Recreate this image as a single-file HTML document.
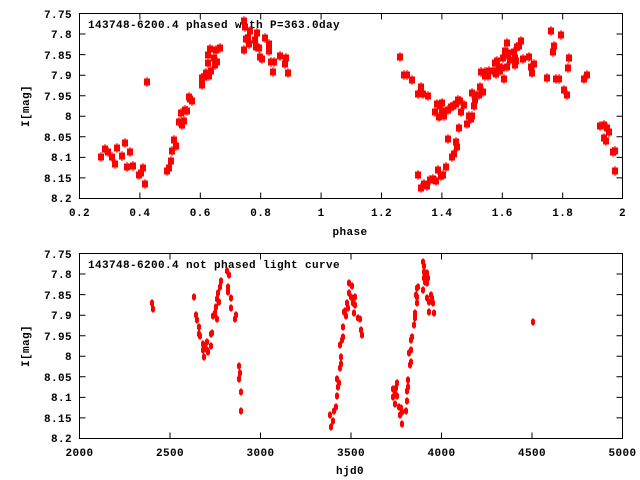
<!DOCTYPE html>
<html><head><meta charset="utf-8"><style>
html,body{margin:0;padding:0;background:#fff;}
svg{display:block;}
text{font-family:"Liberation Mono","DejaVu Sans Mono",monospace;font-weight:bold;font-size:11px;letter-spacing:0.4px;fill:#000;}
</style></head><body>
<svg width="640" height="480" viewBox="0 0 640 480" xmlns="http://www.w3.org/2000/svg">
<defs>
<g id="m"><rect x="-3" y="-3.5" width="6" height="7" fill="#f00"/><rect x="-0.5" y="-5" width="1" height="10" fill="#f00"/></g>
<g id="e"><rect x="-2" y="-2.5" width="4" height="5" fill="#f00"/><rect x="-1" y="-3.5" width="2" height="7" fill="#f00"/></g>
</defs>
<rect width="640" height="480" fill="#fff"/>
<rect x="79.5" y="13.5" width="543" height="185" fill="none" stroke="#000" stroke-width="1"/>
<g stroke="#000" stroke-width="1">
<path d="M79.5 13.5h6M79.5 34h6M79.5 54.6h6M79.5 75.2h6M79.5 95.7h6M79.5 116.3h6M79.5 136.8h6M79.5 157.4h6M79.5 177.9h6
M622.5 34h-6M622.5 54.6h-6M622.5 75.2h-6M622.5 95.7h-6M622.5 116.3h-6M622.5 136.8h-6M622.5 157.4h-6M622.5 177.9h-6
M139.9 198.5v-6M200.3 198.5v-6M260.7 198.5v-6M321.1 198.5v-6M381.5 198.5v-6M441.9 198.5v-6M502.3 198.5v-6M562.7 198.5v-6
M139.9 13.5v6M200.3 13.5v6M260.7 13.5v6M321.1 13.5v6M381.5 13.5v6M441.9 13.5v6M502.3 13.5v6M562.7 13.5v6"/>
</g>
<g text-anchor="end">
<text x="72" y="18">7.75</text><text x="72" y="38">7.8</text><text x="72" y="59">7.85</text><text x="72" y="79">7.9</text><text x="72" y="100">7.95</text><text x="72" y="120">8</text><text x="72" y="141">8.05</text><text x="72" y="161">8.1</text><text x="72" y="182">8.15</text><text x="72" y="202">8.2</text>
</g>
<g text-anchor="middle">
<text x="79.5" y="216">0.2</text><text x="139.9" y="216">0.4</text><text x="200.3" y="216">0.6</text><text x="260.7" y="216">0.8</text><text x="321.1" y="216">1</text><text x="381.5" y="216">1.2</text><text x="441.9" y="216">1.4</text><text x="502.3" y="216">1.6</text><text x="562.7" y="216">1.8</text><text x="622.5" y="216">2</text>
<text x="350" y="235">phase</text>
<text transform="translate(29,106) rotate(-90)">I[mag]</text>
</g>
<text x="88" y="28">143748-6200.4 phased with P=363.0day</text>
<g>
<use href="#m" x="101" y="157"/><use href="#m" x="105" y="149"/><use href="#m" x="108" y="152"/><use href="#m" x="112" y="157"/><use href="#m" x="115" y="164"/><use href="#m" x="117" y="148"/><use href="#m" x="122" y="156"/><use href="#m" x="125" y="143"/><use href="#m" x="127" y="167"/><use href="#m" x="130" y="152"/><use href="#m" x="133" y="166"/><use href="#m" x="139" y="175"/><use href="#m" x="141" y="173"/><use href="#m" x="143" y="168"/><use href="#m" x="145" y="184"/><use href="#m" x="147" y="82"/><use href="#m" x="167" y="171"/><use href="#m" x="169" y="168"/><use href="#m" x="171" y="161"/><use href="#m" x="172" y="151"/><use href="#m" x="174" y="140"/><use href="#m" x="176" y="146"/><use href="#m" x="179" y="122"/><use href="#m" x="181" y="113"/><use href="#m" x="182" y="125"/><use href="#m" x="184" y="121"/><use href="#m" x="185" y="110"/><use href="#m" x="187" y="111"/><use href="#m" x="189" y="97"/><use href="#m" x="190" y="99"/><use href="#m" x="192" y="101"/><use href="#m" x="202" y="85"/><use href="#m" x="202" y="78"/><use href="#m" x="204" y="77"/><use href="#m" x="206" y="73"/><use href="#m" x="207" y="76"/><use href="#m" x="208" y="63"/><use href="#m" x="208" y="55"/><use href="#m" x="209" y="76"/><use href="#m" x="210" y="49"/><use href="#m" x="211" y="71"/><use href="#m" x="214" y="58"/><use href="#m" x="215" y="65"/><use href="#m" x="216" y="50"/><use href="#m" x="217" y="62"/><use href="#m" x="220" y="48"/><use href="#m" x="244" y="21"/><use href="#m" x="245" y="27"/><use href="#m" x="244" y="50"/><use href="#m" x="246" y="39"/><use href="#m" x="248" y="38"/><use href="#m" x="249" y="44"/><use href="#m" x="250" y="31"/><use href="#m" x="255" y="40"/><use href="#m" x="257" y="33"/><use href="#m" x="256" y="47"/><use href="#m" x="259" y="48"/><use href="#m" x="260" y="57"/><use href="#m" x="262" y="59"/><use href="#m" x="265" y="38"/><use href="#m" x="269" y="44"/><use href="#m" x="269" y="51"/><use href="#m" x="271" y="62"/><use href="#m" x="273" y="72"/><use href="#m" x="274" y="62"/><use href="#m" x="280" y="56"/><use href="#m" x="285" y="64"/><use href="#m" x="286" y="58"/><use href="#m" x="288" y="73"/>
<use href="#m" x="400" y="57"/><use href="#m" x="404" y="75"/><use href="#m" x="407" y="75"/><use href="#m" x="412" y="80"/><use href="#m" x="418" y="94"/><use href="#m" x="421" y="87"/><use href="#m" x="423" y="94"/><use href="#m" x="428" y="96"/><use href="#m" x="435" y="112"/><use href="#m" x="437" y="104"/><use href="#m" x="439" y="117"/><use href="#m" x="440" y="106"/><use href="#m" x="442" y="103"/><use href="#m" x="442" y="111"/><use href="#m" x="444" y="116"/><use href="#m" x="448" y="110"/><use href="#m" x="451" y="107"/><use href="#m" x="453" y="106"/><use href="#m" x="456" y="104"/><use href="#m" x="458" y="100"/><use href="#m" x="460" y="101"/><use href="#m" x="461" y="112"/><use href="#m" x="464" y="105"/><use href="#m" x="459" y="128"/><use href="#m" x="467" y="124"/><use href="#m" x="469" y="116"/><use href="#m" x="471" y="119"/><use href="#m" x="472" y="116"/><use href="#m" x="472" y="93"/><use href="#m" x="474" y="106"/><use href="#m" x="475" y="100"/><use href="#m" x="477" y="95"/><use href="#m" x="479" y="95"/><use href="#m" x="480" y="87"/><use href="#m" x="483" y="92"/><use href="#m" x="481" y="72"/><use href="#m" x="485" y="72"/><use href="#m" x="485" y="76"/><use href="#m" x="488" y="76"/><use href="#m" x="489" y="71"/><use href="#m" x="493" y="71"/><use href="#m" x="496" y="74"/><use href="#m" x="495" y="63"/><use href="#m" x="497" y="61"/><use href="#m" x="499" y="67"/><use href="#m" x="500" y="71"/><use href="#m" x="502" y="68"/><use href="#m" x="504" y="79"/><use href="#m" x="503" y="58"/><use href="#m" x="505" y="51"/><use href="#m" x="506" y="55"/><use href="#m" x="507" y="43"/><use href="#m" x="508" y="53"/><use href="#m" x="507" y="67"/><use href="#m" x="510" y="60"/><use href="#m" x="514" y="52"/><use href="#m" x="515" y="58"/><use href="#m" x="515" y="65"/><use href="#m" x="516" y="61"/><use href="#m" x="517" y="47"/><use href="#m" x="519" y="46"/><use href="#m" x="521" y="41"/><use href="#m" x="523" y="59"/><use href="#m" x="529" y="57"/><use href="#m" x="531" y="67"/><use href="#m" x="532" y="73"/><use href="#m" x="534" y="64"/><use href="#m" x="547" y="78"/><use href="#m" x="551" y="31"/><use href="#m" x="553" y="52"/><use href="#m" x="554" y="46"/><use href="#m" x="556" y="79"/><use href="#m" x="559" y="79"/><use href="#m" x="561" y="35"/><use href="#m" x="564" y="90"/><use href="#m" x="567" y="95"/><use href="#m" x="568" y="68"/><use href="#m" x="569" y="58"/><use href="#m" x="584" y="79"/><use href="#m" x="587" y="75"/><use href="#m" x="600" y="126"/><use href="#m" x="604" y="125"/><use href="#m" x="604" y="138"/><use href="#m" x="606" y="141"/><use href="#m" x="607" y="128"/><use href="#m" x="609" y="132"/><use href="#m" x="613" y="152"/><use href="#m" x="615" y="151"/><use href="#m" x="615" y="171"/>
<use href="#m" x="418" y="175"/><use href="#m" x="421" y="188"/><use href="#m" x="424" y="184"/><use href="#m" x="427" y="186"/><use href="#m" x="430" y="180"/><use href="#m" x="433" y="179"/><use href="#m" x="436" y="181"/><use href="#m" x="438" y="170"/><use href="#m" x="441" y="176"/><use href="#m" x="443" y="175"/><use href="#m" x="446" y="167"/><use href="#m" x="448" y="139"/><use href="#m" x="452" y="157"/><use href="#m" x="454" y="154"/><use href="#m" x="456" y="142"/><use href="#m" x="457" y="147"/>
</g>
<rect x="79.5" y="253.5" width="543" height="185" fill="none" stroke="#000" stroke-width="1"/>
<g stroke="#000" stroke-width="1">
<path d="M79.5 274h6M79.5 294.6h6M79.5 315.2h6M79.5 335.7h6M79.5 356.3h6M79.5 376.8h6M79.5 397.4h6M79.5 417.9h6
M622.5 274h-6M622.5 294.6h-6M622.5 315.2h-6M622.5 335.7h-6M622.5 356.3h-6M622.5 376.8h-6M622.5 397.4h-6M622.5 417.9h-6
M170 438.5v-6M260.5 438.5v-6M351 438.5v-6M441.5 438.5v-6M532 438.5v-6
M170 253.5v6M260.5 253.5v6M351 253.5v6M441.5 253.5v6M532 253.5v6"/>
</g>
<g text-anchor="end">
<text x="72" y="258">7.75</text><text x="72" y="278">7.8</text><text x="72" y="299">7.85</text><text x="72" y="319">7.9</text><text x="72" y="340">7.95</text><text x="72" y="360">8</text><text x="72" y="381">8.05</text><text x="72" y="401">8.1</text><text x="72" y="422">8.15</text><text x="72" y="442">8.2</text>
</g>
<g text-anchor="middle">
<text x="79.5" y="456">2000</text><text x="170" y="456">2500</text><text x="260.5" y="456">3000</text><text x="351" y="456">3500</text><text x="441.5" y="456">4000</text><text x="532" y="456">4500</text><text x="622.5" y="456">5000</text>
<text x="350" y="474">hjd0</text>
<text transform="translate(29,346) rotate(-90)">I[mag]</text>
</g>
<text x="88" y="268">143748-6200.4 not phased light curve</text>
<g>
<use href="#e" x="152" y="303"/><use href="#e" x="153" y="309"/><use href="#e" x="194" y="297"/><use href="#e" x="196" y="315"/><use href="#e" x="197" y="320"/><use href="#e" x="199" y="327"/><use href="#e" x="199" y="334"/><use href="#e" x="200" y="336"/><use href="#e" x="203" y="344"/><use href="#e" x="203" y="350"/><use href="#e" x="204" y="357"/><use href="#e" x="205" y="347"/><use href="#e" x="207" y="350"/><use href="#e" x="207" y="342"/><use href="#e" x="208" y="352"/><use href="#e" x="211" y="346"/><use href="#e" x="211" y="334"/><use href="#e" x="212" y="333"/><use href="#e" x="213" y="316"/><use href="#e" x="215" y="313"/><use href="#e" x="216" y="307"/><use href="#e" x="217" y="319"/><use href="#e" x="217" y="299"/><use href="#e" x="218" y="293"/><use href="#e" x="219" y="302"/><use href="#e" x="220" y="287"/><use href="#e" x="221" y="281"/><use href="#e" x="227" y="271"/><use href="#e" x="229" y="275"/><use href="#e" x="228" y="287"/><use href="#e" x="228" y="292"/><use href="#e" x="231" y="298"/><use href="#e" x="231" y="308"/><use href="#e" x="235" y="319"/><use href="#e" x="236" y="315"/><use href="#e" x="239" y="366"/><use href="#e" x="240" y="373"/><use href="#e" x="239" y="379"/><use href="#e" x="241" y="392"/><use href="#e" x="241" y="411"/>
<use href="#e" x="330" y="415"/><use href="#e" x="331" y="427"/><use href="#e" x="333" y="421"/><use href="#e" x="334" y="411"/><use href="#e" x="336" y="407"/><use href="#e" x="337" y="379"/><use href="#e" x="339" y="383"/><use href="#e" x="338" y="387"/><use href="#e" x="337" y="396"/><use href="#e" x="340" y="368"/><use href="#e" x="341" y="364"/><use href="#e" x="341" y="357"/><use href="#e" x="340" y="345"/><use href="#e" x="342" y="340"/><use href="#e" x="343" y="337"/><use href="#e" x="343" y="327"/><use href="#e" x="344" y="312"/><use href="#e" x="345" y="311"/><use href="#e" x="346" y="316"/><use href="#e" x="347" y="303"/><use href="#e" x="348" y="308"/><use href="#e" x="349" y="283"/><use href="#e" x="349" y="293"/><use href="#e" x="351" y="297"/><use href="#e" x="352" y="286"/><use href="#e" x="353" y="303"/><use href="#e" x="355" y="297"/><use href="#e" x="355" y="305"/><use href="#e" x="354" y="313"/><use href="#e" x="358" y="318"/><use href="#e" x="360" y="319"/><use href="#e" x="361" y="330"/><use href="#e" x="362" y="335"/>
<use href="#e" x="393" y="389"/><use href="#e" x="393" y="397"/><use href="#e" x="395" y="393"/><use href="#e" x="396" y="388"/><use href="#e" x="397" y="383"/><use href="#e" x="397" y="396"/><use href="#e" x="395" y="404"/><use href="#e" x="399" y="407"/><use href="#e" x="401" y="408"/><use href="#e" x="400" y="415"/><use href="#e" x="402" y="412"/><use href="#e" x="402" y="424"/><use href="#e" x="406" y="411"/><use href="#e" x="407" y="401"/><use href="#e" x="407" y="391"/><use href="#e" x="408" y="387"/><use href="#e" x="408" y="380"/><use href="#e" x="410" y="365"/><use href="#e" x="411" y="362"/><use href="#e" x="409" y="353"/><use href="#e" x="411" y="350"/><use href="#e" x="411" y="340"/><use href="#e" x="412" y="337"/><use href="#e" x="414" y="325"/><use href="#e" x="415" y="318"/><use href="#e" x="415" y="313"/><use href="#e" x="417" y="303"/><use href="#e" x="417" y="297"/><use href="#e" x="416" y="295"/><use href="#e" x="417" y="288"/><use href="#e" x="418" y="287"/><use href="#e" x="423" y="290"/><use href="#e" x="424" y="278"/><use href="#e" x="424" y="272"/><use href="#e" x="423" y="262"/><use href="#e" x="424" y="266"/><use href="#e" x="425" y="282"/><use href="#e" x="427" y="273"/><use href="#e" x="427" y="283"/><use href="#e" x="428" y="278"/><use href="#e" x="427" y="298"/><use href="#e" x="429" y="302"/><use href="#e" x="429" y="312"/><use href="#e" x="431" y="295"/><use href="#e" x="432" y="298"/><use href="#e" x="433" y="303"/><use href="#e" x="434" y="313"/><use href="#e" x="533" y="322"/>
</g>
</svg>
</body></html>
